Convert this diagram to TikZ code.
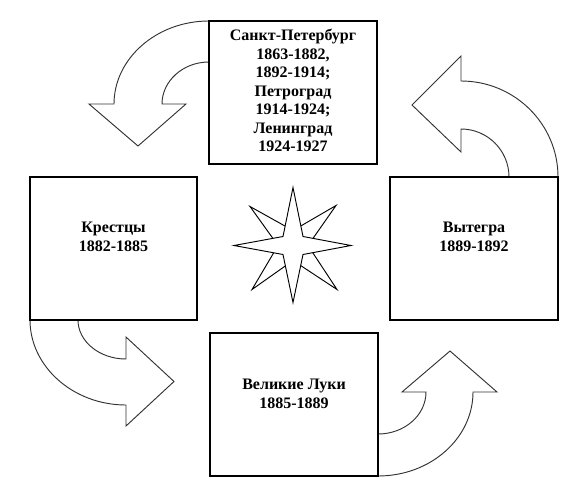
\documentclass[tikz,border=0pt]{standalone}
\usepackage{fontspec}
\setmainfont{Liberation Serif}
\usetikzlibrary{calc}
\begin{document}
\begin{tikzpicture}[x=0.75pt,y=-0.75pt,
  box/.style={draw=black,line width=1.1pt,fill=white},
  bigarrow/.style={draw=black!80,line width=0.7pt,fill=white,line join=miter},
  starshape/.style={draw=black,line width=0.7pt,fill=white,line join=miter},
  lbl/.style={font=\fontsize{12pt}{13.9pt}\selectfont\bfseries,align=center,inner sep=0pt}]
\useasboundingbox (0,0) rectangle (570,492);
% curved arrows
\draw[bigarrow] (209,21) .. controls (156.5,21) and (114,58.6) .. (114,104)
  -- (89,104) -- (138,146) -- (186,104) -- (162,104)
  .. controls (162,81) and (183,62) .. (209,62) -- cycle;
\draw[bigarrow] (558,177) .. controls (558,124) and (514.6,81) .. (461,81)
  -- (461,56) -- (412,105) -- (461,152) -- (461,129)
  .. controls (487.5,129) and (509,150.5) .. (509,177) -- cycle;
\draw[bigarrow] (30,320) .. controls (30,366.4) and (73,405) .. (126,405)
  -- (126,426) -- (174,381.5) -- (126,337) -- (126,359)
  .. controls (99.5,359) and (78,341.5) .. (78,320) -- cycle;
\draw[bigarrow] (378,476) .. controls (430.5,476) and (473,438.4) .. (473,392)
  -- (497,392) -- (450,351) -- (402,392) -- (426,392)
  .. controls (426,415.2) and (404.5,434) .. (378,434) -- cycle;
% boxes
\node[box,minimum width=126pt,minimum height=107.25pt,inner sep=0pt] (spb) at (293,92.5) {};
\node[box,minimum width=125.25pt,minimum height=107.25pt,inner sep=0pt] (kr) at (113.5,248.5) {};
\node[box,minimum width=126pt,minimum height=107.25pt,inner sep=0pt] (vy) at (474,248.5) {};
\node[box,minimum width=126pt,minimum height=107.25pt,inner sep=0pt] (vl) at (294,404.5) {};
\node[lbl] (tspb) at (293,90.5) {Санкт-Петербург\\1863-1882,\\1892-1914;\\Петроград\\1914-1924;\\Ленинград\\1924-1927};
\node[lbl] (tkr) at (113.5,237) {Крестцы\\1882-1885};
\node[lbl] (tvy) at (474,237) {Вытегра\\1889-1892};
\node[lbl] (tvl) at (294,394) {Великие Луки\\1885-1889};
% star
\coordinate (c) at (293,245.5);
\draw[starshape] ($(c)+(-43,-39)$) -- ($(c)+(0,-15)$) -- ($(c)+(43,-40)$) -- ($(c)+(15,0)$)
  -- ($(c)+(44,44)$) -- ($(c)+(0,15)$) -- ($(c)+(-41,44)$) -- ($(c)+(-15,0)$) -- cycle;
\draw[starshape] ($(c)+(0,-58)$) -- ($(c)+(10,-9)$) -- ($(c)+(58,0)$) -- ($(c)+(10,9)$)
  -- ($(c)+(0,57)$) -- ($(c)+(-10,9)$) -- ($(c)+(-59,0)$) -- ($(c)+(-10,-9)$) -- cycle;
\end{tikzpicture}
\end{document}
